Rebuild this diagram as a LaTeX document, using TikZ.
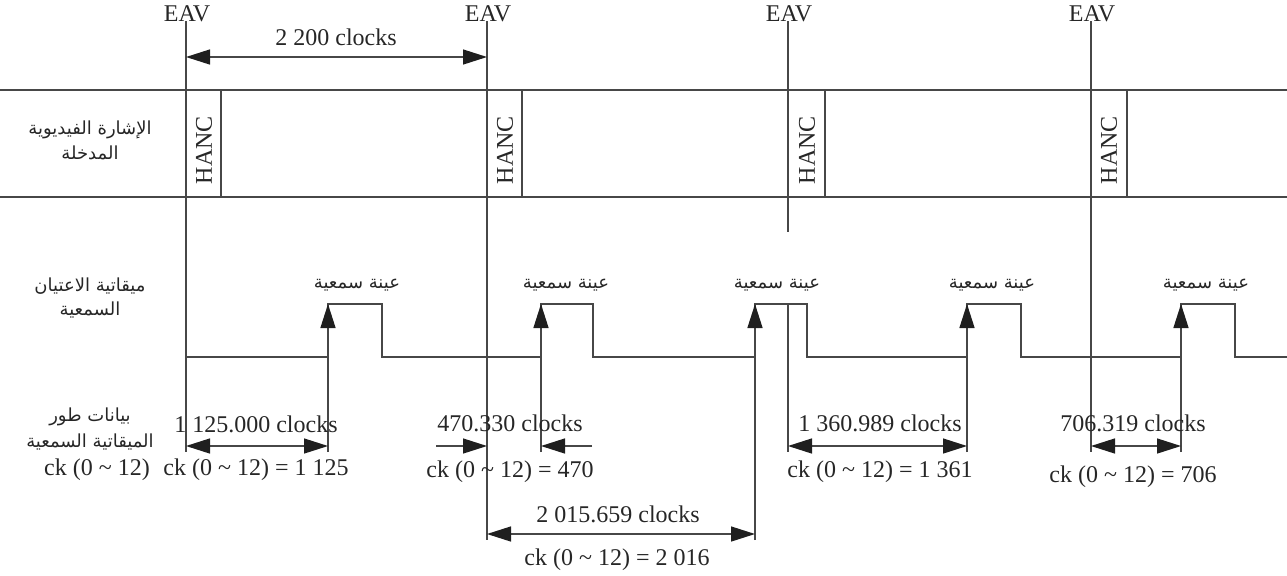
\documentclass[tikz,border=0pt]{standalone}
\usepackage{fontspec}
\setmainfont{Liberation Serif}
\newfontfamily\arabicfont[Script=Arabic]{DejaVu Sans}
\TeXXeTstate=1
\usetikzlibrary{arrows.meta}
\begin{document}
\begin{tikzpicture}[x=0.5pt,y=-0.5pt,
  ln/.style={draw=black!72, line width=0.7pt},
  tip/.style={Triangle[length=12pt,width=7.5pt,color=black!88]},
  dim/.style={ln, {Triangle[length=12pt,width=7.5pt,color=black!88]}-{Triangle[length=12pt,width=7.5pt,color=black!88]}},
  onearrow/.style={ln, -{Triangle[length=12pt,width=7.5pt,color=black!88]}},
  lbl/.style={font=\fontsize{12}{13}\selectfont, text=black!85, inner sep=0pt, anchor=base},
  ar/.style={font=\arabicfont\fontsize{9}{11}\selectfont, text=black!85, inner sep=0pt},
]
\useasboundingbox (0,0) rectangle (1287,575);

% band lines
\coordinate (bandTL) at (0,90);
\coordinate (bandTR) at (1287,90);
\coordinate (bandBL) at (0,197);
\coordinate (bandBR) at (1287,197);
\draw[ln] (bandTL) -- (bandTR);
\draw[ln] (bandBL) -- (bandBR);

% EAV lines
\coordinate (e1t) at (186,21); \coordinate (e1b) at (186,452);
\coordinate (e2t) at (487,21); \coordinate (e2b) at (487,540);
\coordinate (e3t) at (788,21); \coordinate (e3m) at (788,232);
\coordinate (e3n) at (788,304); \coordinate (e3b) at (788,452);
\coordinate (e4t) at (1091,21); \coordinate (e4b) at (1091,452);
\draw[ln] (e1t) -- (e1b);
\draw[ln] (e2t) -- (e2b);
\draw[ln] (e3t) -- (e3m);
\draw[ln] (e3n) -- (e3b);
\draw[ln] (e4t) -- (e4b);

\node[lbl] (eav1) at (187,21) {EAV};
\node[lbl] (eav2) at (488,21) {EAV};
\node[lbl] (eav3) at (789,21) {EAV};
\node[lbl] (eav4) at (1092,21) {EAV};

% HANC boxes
\coordinate (h1t) at (221,90); \coordinate (h1b) at (221,197);
\coordinate (h2t) at (522,90); \coordinate (h2b) at (522,197);
\coordinate (h3t) at (825,90); \coordinate (h3b) at (825,197);
\coordinate (h4t) at (1127,90); \coordinate (h4b) at (1127,197);
\draw[ln] (h1t) -- (h1b);
\draw[ln] (h2t) -- (h2b);
\draw[ln] (h3t) -- (h3b);
\draw[ln] (h4t) -- (h4b);
\node[lbl, anchor=center, rotate=90] (hanc1) at (204,150) {HANC};
\node[lbl, anchor=center, rotate=90] (hanc2) at (505,150) {HANC};
\node[lbl, anchor=center, rotate=90] (hanc3) at (807,150) {HANC};
\node[lbl, anchor=center, rotate=90] (hanc4) at (1109,150) {HANC};

% audio clock signal
\draw[ln] (186,357) -- (328,357) -- (328,304) -- (382,304) -- (382,357)
  -- (541,357) -- (541,304) -- (593,304) -- (593,357)
  -- (755,357) -- (755,304) -- (807,304) -- (807,357)
  -- (967,357) -- (967,304) -- (1021,304) -- (1021,357)
  -- (1181,357) -- (1181,304) -- (1235,304) -- (1235,357)
  -- (1287,357);

% rising-edge markers (extending down)
\coordinate (p1t) at (328,304); \coordinate (p1b) at (328,452);
\coordinate (p2t) at (541,304); \coordinate (p2b) at (541,452);
\coordinate (p3t) at (755,304); \coordinate (p3b) at (755,540);
\coordinate (p4t) at (967,304); \coordinate (p4b) at (967,452);
\coordinate (p5t) at (1181,304); \coordinate (p5b) at (1181,452);
\draw[onearrow] (p1b) -- (p1t);
\draw[onearrow] (p2b) -- (p2t);
\draw[onearrow] (p3b) -- (p3t);
\draw[onearrow] (p4b) -- (p4t);
\draw[onearrow] (p5b) -- (p5t);

\node[ar] (s1) at (357,285) {\beginR عينة سمعية\endR};
\node[ar] (s2) at (566,285) {\beginR عينة سمعية\endR};
\node[ar] (s3) at (777,285) {\beginR عينة سمعية\endR};
\node[ar] (s4) at (992,285) {\beginR عينة سمعية\endR};
\node[ar] (s5) at (1206,285) {\beginR عينة سمعية\endR};

% left labels
\node[ar] (v1) at (90,130) {\beginR الإشارة الفيديوية\endR};
\node[ar] (v2) at (90,153) {\beginR المدخلة\endR};
\node[ar] (a1) at (90,286) {\beginR ميقاتية الاعتيان\endR};
\node[ar] (a2) at (90,310) {\beginR السمعية\endR};
\node[ar] (d1) at (90,417) {\beginR بيانات طور\endR};
\node[ar] (d2) at (90,442) {\beginR الميقاتية السمعية\endR};
\node[lbl] (d3) at (97,475) {ck (0 \textasciitilde\ 12)};

% dimension: 2 200 clocks
\coordinate (t1a) at (186,57); \coordinate (t1b) at (487,57);
\draw[dim] (t1a) -- (t1b);
\node[lbl] (t1) at (336,45) {2 200 clocks};

% 1 125.000
\coordinate (m1a) at (186,446); \coordinate (m1b) at (328,446);
\draw[dim] (m1a) -- (m1b);
\node[lbl] (m1) at (256,432) {1 125.000 clocks};
\node[lbl] (c1) at (256,475) {ck (0 \textasciitilde\ 12) = 1 125};

% 470.330
\coordinate (m2a) at (436,446); \coordinate (m2b) at (487,446);
\coordinate (m2c) at (592,446); \coordinate (m2d) at (541,446);
\draw[onearrow] (m2a) -- (m2b);
\draw[onearrow] (m2c) -- (m2d);
\node[lbl] (m2) at (510,431) {470.330 clocks};
\node[lbl] (c2) at (510,477) {ck (0 \textasciitilde\ 12) = 470};

% 2 015.659
\coordinate (m3a) at (487,534); \coordinate (m3b) at (755,534);
\draw[dim] (m3a) -- (m3b);
\node[lbl] (m3) at (618,522) {2 015.659 clocks};
\node[lbl] (c3) at (617,565) {ck (0 \textasciitilde\ 12) = 2 016};

% 1 360.989
\coordinate (m4a) at (788,446); \coordinate (m4b) at (967,446);
\draw[dim] (m4a) -- (m4b);
\node[lbl] (m4) at (880,431) {1 360.989 clocks};
\node[lbl] (c4) at (880,477) {ck (0 \textasciitilde\ 12) = 1 361};

% 706.319
\coordinate (m5a) at (1091,446); \coordinate (m5b) at (1181,446);
\draw[dim] (m5a) -- (m5b);
\node[lbl] (m5) at (1133,431) {706.319 clocks};
\node[lbl] (c5) at (1133,482) {ck (0 \textasciitilde\ 12) = 706};

\end{tikzpicture}
\end{document}
